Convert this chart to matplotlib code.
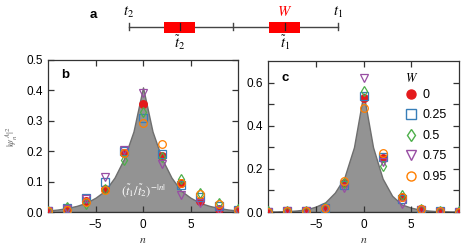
import matplotlib
matplotlib.use("Agg")
import matplotlib.pyplot as plt
from matplotlib.patches import Rectangle
from matplotlib.lines import Line2D
import numpy as np

plt.rcParams['font.family'] = ['Liberation Sans', 'DejaVu Sans']
plt.rcParams['mathtext.fontset'] = 'stix'

# ---------------- data ----------------
n_pts = [-10, -8, -6, -4, -2, 0, 2, 4, 6, 8, 10]
W_labels = ['0', '0.25', '0.5', '0.75', '0.95']

b_W0   = [0.003, 0.008, 0.035, 0.075, 0.195, 0.355, 0.185, 0.095, 0.035, 0.010, 0.004]
b_W025 = [0.003, 0.012, 0.045, 0.098, 0.200, 0.308, 0.190, 0.090, 0.050, 0.020, 0.005]
b_W05  = [0.004, 0.015, 0.025, 0.075, 0.172, 0.328, 0.180, 0.110, 0.063, 0.030, 0.010]
b_W075 = [0.003, 0.010, 0.043, 0.116, 0.205, 0.392, 0.158, 0.056, 0.030, 0.008, 0.004]
b_W095 = [0.003, 0.005, 0.032, 0.072, 0.193, 0.294, 0.223, 0.095, 0.060, 0.025, 0.006]

c_W0   = [0.002, 0.004, 0.004, 0.018, 0.135, 0.530, 0.250, 0.068, 0.012, 0.003, 0.002]
c_W025 = [0.002, 0.004, 0.004, 0.018, 0.125, 0.540, 0.255, 0.060, 0.010, 0.003, 0.002]
c_W05  = [0.003, 0.006, 0.006, 0.020, 0.135, 0.560, 0.215, 0.078, 0.016, 0.005, 0.003]
c_W075 = [0.002, 0.003, 0.003, 0.015, 0.110, 0.623, 0.230, 0.035, 0.008, 0.002, 0.001]
c_W095 = [0.002, 0.004, 0.004, 0.018, 0.145, 0.484, 0.272, 0.070, 0.012, 0.003, 0.002]

n_full = list(range(-10, 11))
b_gray = [0.005, 0.008, 0.013, 0.020, 0.030, 0.047, 0.070, 0.113, 0.175, 0.265, 0.410,
          0.265, 0.175, 0.113, 0.070, 0.047, 0.030, 0.020, 0.013, 0.008, 0.005]
c_gray = [0.001, 0.002, 0.004, 0.007, 0.012, 0.025, 0.045, 0.090, 0.160, 0.300, 0.550,
          0.300, 0.155, 0.075, 0.035, 0.020, 0.010, 0.006, 0.003, 0.002, 0.001]

# ---------------- styles ----------------
colors = ['#e41a1c', '#377eb8', '#4daf4a', '#984ea3', '#ff7f00']
markers = ['o', 's', 'd', 'v', 'o']
filled = [True, False, False, False, False]

W_px, H_px = 469, 247
fig = plt.figure(figsize=(W_px / 100, H_px / 100), dpi=100)

def frac(l, r, t, b):
    return [l / W_px, 1 - b / H_px, (r - l) / W_px, (b - t) / H_px]

ax_b = fig.add_axes(frac(48, 238, 60, 212))
ax_c = fig.add_axes(frac(268, 459, 61, 212))

def style_axes(ax, ylim, major, minor):
    ax.set_xlim(-10, 10)
    ax.set_ylim(*ylim)
    ax.set_xticks([-5, 0, 5])
    ax.set_yticks(major)
    ax.set_yticks(minor, minor=True)
    ax.tick_params(which='both', direction='in', top=True, right=True,
                   length=4, width=0.9, labelsize=8.5, color='#333333', pad=3.5)
    ax.tick_params(axis='x', pad=5)
    for s in ax.spines.values():
        s.set_linewidth(0.9)
        s.set_color('#333333')
    ax.set_xlabel('$n$', fontsize=8.5, labelpad=2.5, color='#333333')

def draw_panel(ax, gray, series):
    ax.fill_between(n_full, gray, 0, facecolor='#939393', edgecolor='#6e6e6e',
                    linewidth=1.0, zorder=1)
    for ys, c, m, f in zip(series, colors, markers, filled):
        ax.plot(n_pts, ys, linestyle='none', marker=m, markersize=5.5,
                markerfacecolor=c if f else 'none', markeredgecolor=c,
                markeredgewidth=0.9, clip_on=True, zorder=3)

draw_panel(ax_b, b_gray, [b_W0, b_W025, b_W05, b_W075, b_W095])
draw_panel(ax_c, c_gray, [c_W0, c_W025, c_W05, c_W075, c_W095])

style_axes(ax_b, (0, 0.5), [0.0, 0.1, 0.2, 0.3, 0.4, 0.5], [])
ax_b.set_yticklabels(['0.0', '0.1', '0.2', '0.3', '0.4', '0.5'])
style_axes(ax_c, (0, 0.7), [0.0, 0.2, 0.4, 0.6], [0.1, 0.3, 0.5])
ax_c.set_yticklabels(['0.0', '0.2', '0.4', '0.6'])

ax_b.set_ylabel(r'$|\psi_n^{\,A}|^2$', fontsize=7, color='#666666', labelpad=5)

ax_b.text(0.068, 0.94, 'b', transform=ax_b.transAxes, fontsize=9.5, fontweight='bold',
          va='top', ha='left')
ax_c.text(0.072, 0.93, 'c', transform=ax_c.transAxes, fontsize=9.5, fontweight='bold',
          va='top', ha='left')
ax_b.text(0, 0.072, r'$(\widetilde{t}_1/\widetilde{t}_2)^{-|n|}$', color='white',
          fontsize=9, ha='center', va='center', zorder=4)

handles = [Line2D([], [], linestyle='none', marker=m, markersize=6.5,
                  markerfacecolor=c if f else 'none', markeredgecolor=c,
                  markeredgewidth=1.0)
           for c, m, f in zip(colors, markers, filled)]
leg = ax_c.legend(handles, W_labels, title='$W$', loc='upper left',
                  bbox_to_anchor=(396 / W_px, 1 - 63 / H_px),
                  bbox_transform=fig.transFigure, frameon=False,
                  fontsize=9, title_fontsize=9, handlelength=1.0,
                  handletextpad=0.4, labelspacing=0.68, borderpad=0.2,
                  alignment='left')
leg._legend_box.sep = 3.0

# ---------------- panel a (schematic) ----------------
ax_a = fig.add_axes([0, 0, 1, 1], zorder=-1)
ax_a.set_xlim(0, W_px)
ax_a.set_ylim(H_px, 0)
ax_a.axis('off')
ya = 27
ax_a.plot([129, 338], [ya, ya], color='#444444', lw=1.0)
for x in [129, 233, 338]:
    ax_a.plot([x, x], [ya - 3.5, ya + 3.5], color='#444444', lw=1.0)
for x0 in [164, 269]:
    ax_a.add_patch(Rectangle((x0, 22), 31, 11, facecolor='#ff0000', edgecolor='none', zorder=2))
for x in [180, 285]:
    ax_a.plot([x, x], [ya - 3.5, ya + 3.5], color='#222222', lw=0.9, zorder=3)
ax_a.text(129, 12, '$t_2$', fontsize=10.5, ha='center', va='center')
ax_a.text(338, 12, '$t_1$', fontsize=10.5, ha='center', va='center')
ax_a.text(285, 12, '$W$', fontsize=10.5, ha='center', va='center', color='#ff0000')
ax_a.text(180, 43, r'$\widetilde{t}_2$', fontsize=10.5, ha='center', va='center')
ax_a.text(285, 43, r'$\widetilde{t}_1$', fontsize=10.5, ha='center', va='center')
ax_a.text(93, 15, 'a', fontsize=9.5, fontweight='bold', ha='center', va='center')

fig.savefig('out.png', dpi=100)
